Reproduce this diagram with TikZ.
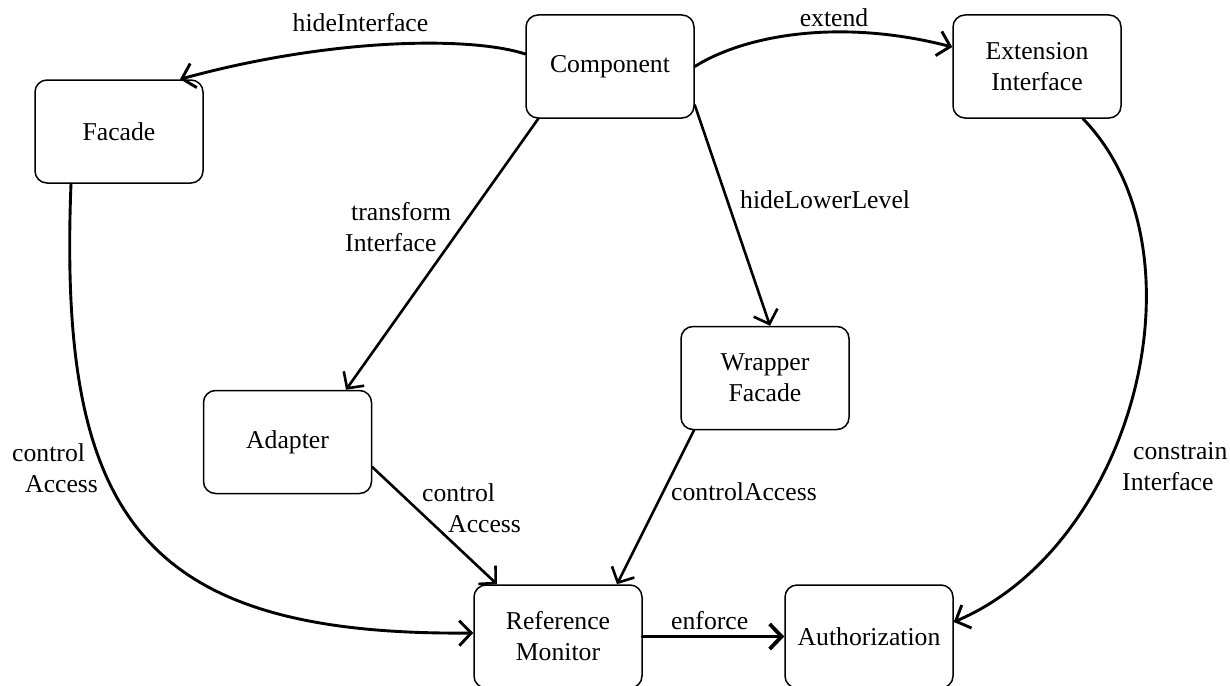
\documentclass[tikz,border=0pt]{standalone}
\usepackage{fontspec}
\setmainfont{Liberation Serif}
\usetikzlibrary{arrows.meta}
\begin{document}
\begin{tikzpicture}[x=1pt,y=-1pt,
  box/.style={draw, line width=1.5pt, rounded corners=12pt, minimum width=168pt, minimum height=103pt, inner sep=0pt, align=center, font=\fontsize{25.7}{31}\selectfont},
  lbl/.style={inner sep=0pt, font=\fontsize{25.7}{31}\selectfont},
  conn/.style={line width=2.6pt, line cap=round, -{Straight Barb[length=12pt,width=25pt]}},
  curv/.style={conn, line width=2.9pt}]
\useasboundingbox (0,0) rectangle (1230,685);
\clip (0,0) rectangle (1230,685);
% boxes
\node[box] (fac) at (119,131.5) {Facade};
\node[box] (comp) at (610,66.5) {Component};
\node[box] (ext) at (1037,66.5) {Extension\\Interface};
\node[box] (adp) at (287.5,442) {Adapter};
\node[box] (wrp) at (765,378) {Wrapper\\Facade};
\node[box] (ref) at (558,636.5) {Reference\\Monitor};
\node[box] (aut) at (869,636.5) {Authorization};
% connectors
\draw[curv] ([yshift=12.5pt]comp.west) .. controls (470,36) and (330,38) .. ([xshift=61pt]fac.north);
\draw[curv] (comp.east) .. controls (745,35) and (840,18) .. ([yshift=19.5pt]ext.west);
\draw[conn] ([xshift=13pt]comp.south west) -- ([xshift=58.5pt]adp.north);
\draw[conn] ([yshift=-38.5pt]comp.east) -- ([xshift=5pt]wrp.north);
\draw[curv] ([xshift=-48pt]fac.south) .. controls (58,515) and (140,636) .. ([yshift=3.5pt]ref.west);
\draw[conn] ([yshift=-25pt]adp.east) -- ([xshift=-61pt]ref.north);
\draw[conn] ([xshift=-71pt]wrp.south) -- ([xshift=59pt]ref.north);
\draw[conn, line width=3.8pt] (ref.east) -- (aut.west);
\draw[curv] ([xshift=46pt]ext.south) .. controls (1210,250) and (1135,545) .. ([yshift=14.5pt]aut.east);
% labels
\node[lbl, anchor=base] (l1) at (360.5,32) {hideInterface};
\node[lbl, anchor=base] (l2) at (834,27) {extend};
\node[lbl, anchor=base west, align=left] (l3) at (345,251) {\hspace*{6pt}transform\\Interface};
\node[lbl, anchor=base west] (l4) at (740,208) {hideLowerLevel};
\node[lbl, anchor=base west, align=left] (l5) at (12,492) {control\\\hspace*{13pt}Access};
\node[lbl, anchor=base west, align=left] (l6) at (422,532) {control\\\hspace*{26pt}Access};
\node[lbl, anchor=base west] (l7) at (671,500) {controlAccess};
\node[lbl, anchor=base west] (l8) at (671,629) {enforce};
\node[lbl, anchor=base west, align=left] (l9) at (1122,490) {\hspace*{11pt}constrain\\Interface};
\end{tikzpicture}
\end{document}
